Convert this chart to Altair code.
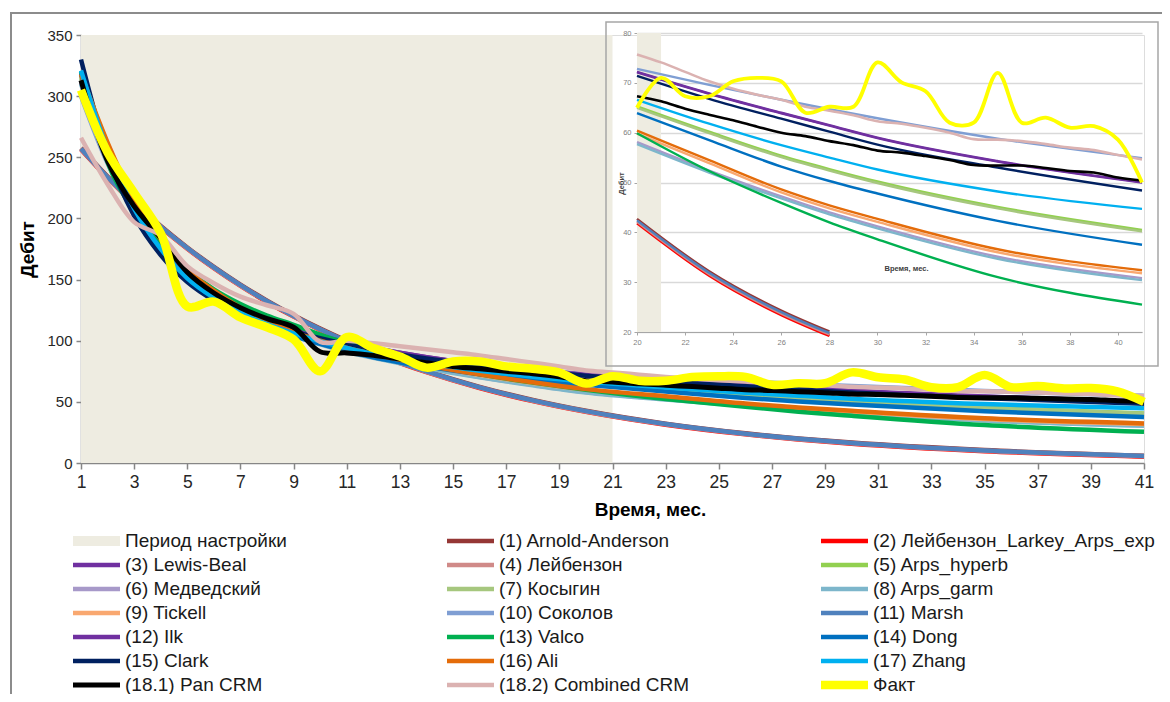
import altair as alt
import pandas as pd

# ---------------- legend / series ----------------
SERIES = [
    "Период настройки", "(1) Arnold-Anderson", "(2) Лейбензон_Larkey_Arps_exp",
    "(3) Lewis-Beal", "(4) Лейбензон", "(5) Arps_hyperb",
    "(6) Медведский", "(7) Косыгин", "(8) Arps_garm",
    "(9) Tickell", "(10) Соколов", "(11) Marsh",
    "(12) Ilk", "(13) Valco", "(14) Dong",
    "(15) Clark", "(16) Ali", "(17) Zhang",
    "(18.1) Pan CRM", "(18.2) Combined CRM", "Факт",
]
COLORS = [
    "#EEECE1", "#953735", "#FF0000",
    "#7030A0", "#D08A88", "#92D050",
    "#A799C9", "#A6C77E", "#7DB6CB",
    "#F9A870", "#7F9ED3", "#4F81BD",
    "#7030A0", "#00B050", "#0070C0",
    "#002060", "#E46C0A", "#00B0F0",
    "#000000", "#DBB2B1", "#FFFF00",
]
WIDTHS = [10] + [4.5] * 17 + [5, 4.5, 8.5]

# ---------------- data ----------------
PERIOD = [1, 21]            # calibration period (months)
MAIN_MONTHS = [1, 41]
MAIN_RATE = [0, 350]
INSET_MONTHS = [20, 41]
INSET_RATE = [20, 80]

MODEL_X = [1, 2, 3, 4, 5, 6, 7, 8, 9, 10, 11, 12, 14, 16, 18, 20, 23, 26, 28, 30, 35, 41]

ARNOLD_ANDERSON = [257.5, 234.2, 213.1, 193.8, 176.3, 160.4, 145.9, 132.8, 120.8, 109.9, 100.0, 91.0, 75.3, 62.3, 51.6, 42.7, 32.2, 24.3, 20.1, 16.7, 10.6, 6.0]
LEIB_LARKEY_EXP = [256.4, 233.1, 212.0, 192.7, 175.2, 159.3, 144.8, 131.7, 119.7, 108.8, 98.9, 89.9, 74.3, 61.3, 50.6, 41.8, 31.3, 23.4, 19.2, 15.8, 9.7, 5.2]
LEWIS_BEAL = [318, 255, 209, 177, 154, 138, 127, 118, 110.5, 104, 98.5, 94, 86.5, 80.5, 76, 72.1, 67.8, 63.9, 61.4, 58.9, 54.2, 50.0]
LEIBENZON = [256.7, 233.4, 212.3, 193.0, 175.5, 159.6, 145.1, 132.0, 120.0, 109.1, 99.2, 90.2, 74.6, 61.6, 50.9, 42.1, 31.6, 23.7, 19.5, 16.1, 10.0, 5.5]
ARPS_HYPERB = [316, 256, 210, 178, 154, 137, 124.5, 115, 107, 100.5, 95, 90, 82, 75.4, 70, 65.3, 60.2, 55.4, 52.7, 50.2, 45.1, 40.5]
MEDVEDSKY = [311, 251, 205, 174, 151, 135, 123, 113, 105, 98, 91.8, 86.6, 78, 70.4, 63.9, 58.1, 52.4, 47.2, 44.0, 41.2, 35.1, 30.8]
KOSYGIN = [315, 255, 209, 177, 153, 136.5, 124, 114.5, 106.5, 100, 94.5, 89.5, 81.5, 75, 69.6, 65, 59.9, 55.1, 52.4, 49.9, 44.8, 40.2]
ARPS_GARM = [310, 250, 204, 173, 150, 134, 122, 112, 104, 97, 91, 86, 77.5, 70, 63.5, 57.7, 52.0, 46.8, 43.6, 40.8, 34.7, 30.4]
TICKELL = [317, 261, 215, 182, 157, 140, 126.3, 115.4, 106.4, 99.4, 93.4, 88.4, 79.4, 71.9, 65.4, 59.8, 53.9, 48.0, 44.8, 42.1, 36.0, 31.8]
SOKOLOV = [300, 245, 205, 177, 156, 140, 128, 118, 110, 103.5, 98, 93.5, 85.5, 79.6, 75.9, 72.8, 69.6, 66.6, 64.7, 62.9, 58.8, 54.9]
MARSH = [257, 233.7, 212.6, 193.3, 175.8, 159.9, 145.4, 132.3, 120.3, 109.4, 99.5, 90.5, 74.9, 61.9, 51.2, 42.4, 31.9, 24.0, 19.8, 16.4, 10.3, 5.8]
ILK = [319, 256, 209.5, 177.5, 154, 138, 127, 118, 110.5, 104, 98.6, 94.1, 86.6, 80.6, 76.1, 72.2, 67.9, 64.0, 61.5, 59.0, 54.3, 50.1]
VALCO = [320, 246, 206, 179, 158, 142, 130, 120.5, 113, 105, 98, 91.5, 81, 72.5, 65.8, 59.9, 52.3, 45.9, 42.0, 38.6, 31.0, 25.5]
DONG = [318, 254, 207, 175, 151, 134, 122, 112, 104, 97.5, 91.5, 86.5, 78.8, 72.6, 67.8, 63.9, 58.5, 53.2, 50.3, 47.8, 42.3, 37.5]
CLARK = [330, 252, 202, 170, 148, 133, 122, 114, 107.5, 102, 97, 92.5, 85.5, 80, 75.5, 71.4, 66.8, 62.8, 60.2, 57.6, 53.0, 48.4]
ALI = [318, 262, 216, 183, 158, 141, 127, 116, 107, 100, 94, 89, 80, 72.5, 66, 60.4, 54.5, 48.6, 45.4, 42.7, 36.6, 32.4]
ZHANG = [321, 256, 208, 175, 151, 135, 123, 113.5, 106, 99.5, 94, 89, 81.5, 75.5, 70.6, 66.6, 61.8, 57.5, 55.0, 52.6, 48.2, 44.7]

MONTHS = list(range(1, 42))
PAN_CRM = [313, 247, 210, 184, 156, 139, 127, 118, 111, 91, 90, 88, 85, 82, 79, 77, 75, 73, 70.5, 67.3,
           66.3, 64.8, 63.6, 62.5, 61.2, 60, 59.3, 58.3, 57.5, 56.4, 56, 55.3, 54.5, 53.5, 53.4, 53.4,
           52.9, 52.3, 52.0, 51.0, 50.4]
COMBINED_CRM = [266, 228, 197, 186, 161, 147, 136, 129, 122, 99, 100, 98, 95.5, 93, 90.5, 88, 85, 82, 79, 75.7,
                74.1, 72.2, 70.3, 68.8, 67.6, 66.6, 65.2, 64.4, 63.5, 62.3, 61.8, 61, 60, 58.7, 58.6, 58.3,
                57.7, 57, 56.5, 55.5, 54.6]
FACT = [305, 254, 221, 188, 128, 132, 119, 111, 101, 75, 103, 94, 87, 78, 83, 83, 79, 77, 74, 65,
        71, 67.3, 67.3, 70.3, 71, 70.3, 64, 65.2, 65.2, 74.1, 70.1, 68.3, 62, 62, 72, 62, 63, 61, 61.3,
        58.6, 50]

MODEL_VALUES = [ARNOLD_ANDERSON, LEIB_LARKEY_EXP, LEWIS_BEAL, LEIBENZON, ARPS_HYPERB, MEDVEDSKY,
                KOSYGIN, ARPS_GARM, TICKELL, SOKOLOV, MARSH, ILK, VALCO, DONG, CLARK, ALI, ZHANG]
MODEL_NAMES = SERIES[1:18]
CRM_NAMES = SERIES[18:21]
CRM_VALUES = [PAN_CRM, COMBINED_CRM, FACT]

rows = []
for name, vals in zip(MODEL_NAMES, MODEL_VALUES):
    for m, v in zip(MODEL_X, vals):
        rows.append({"series": name, "month": m, "rate": v})
models_df = pd.DataFrame(rows)

rows = []
for name, vals in zip(CRM_NAMES, CRM_VALUES):
    for m, v in zip(MONTHS, vals):
        rows.append({"series": name, "month": m, "rate": v})
crm_df = pd.DataFrame(rows)

shade_main = pd.DataFrame([{"month": PERIOD[0], "m1": PERIOD[1], "rate": MAIN_RATE[0], "r1": MAIN_RATE[1]}])
shade_inset = pd.DataFrame([{"month": max(PERIOD[0], INSET_MONTHS[0]), "m1": PERIOD[1],
                             "rate": INSET_RATE[0], "r1": INSET_RATE[1]}])
one = pd.DataFrame([{"k": 1}])

FONT = "Liberation Sans"
W, H = 1063, 428

# ---------------- encodings ----------------
legend = alt.Legend(
    orient="none", legendX=-13, legendY=496, direction="horizontal", columns=3, gridAlign="all",
    columnPadding=35, rowPadding=4, clipHeight=20, symbolType="stroke",
    symbolSize=2209, labelFont=FONT, labelFontSize=19, labelColor="#1a1a1a",
    labelLimit=400, labelOffset=0, title=None, padding=0, symbolOpacity=1,
)
COLOR = alt.Color("series:N", scale=alt.Scale(domain=SERIES, range=COLORS), legend=legend)
COLOR_NL = alt.Color("series:N", scale=alt.Scale(domain=SERIES, range=COLORS), legend=None)
SW = alt.StrokeWidth("series:N", scale=alt.Scale(type="ordinal", domain=SERIES, range=WIDTHS), legend=legend)

AX_GRAY = "#868686"
SC_XM = alt.Scale(domain=MAIN_MONTHS, nice=False, zero=False)
SC_YM = alt.Scale(domain=MAIN_RATE, nice=False, zero=False)
AXIS_XM = alt.Axis(values=list(range(1, 42, 2)), grid=False, title="Время, мес.",
                   domainColor=AX_GRAY, domainWidth=1.5, tickColor=AX_GRAY, tickWidth=1.5,
                   tickSize=6, labelFontSize=17.5, labelColor="#262626", labelPadding=4,
                   labelFlush=False, labelOverlap=False, labelFont=FONT,
                   titleFont=FONT, titleFontSize=19, titleFontWeight="bold", titleColor="#000",
                   titleX=569, titleY=46, titleAlign="center", titleBaseline="middle")
AXIS_YM = alt.Axis(values=list(range(0, 351, 50)), grid=False, title="Дебит",
                   domainColor=AX_GRAY, domainWidth=1.5, tickColor=AX_GRAY, tickWidth=1.5,
                   tickSize=5, labelFontSize=15, labelColor="#262626", labelPadding=4,
                   labelFont=FONT, titleFont=FONT, titleFontSize=19, titleFontWeight="bold",
                   titleColor="#000", titleX=-54, titleY=214, titleAngle=270,
                   titleAlign="center", titleBaseline="middle")
X_MAIN = alt.X("month:Q", scale=SC_XM, axis=AXIS_XM)
Y_MAIN = alt.Y("rate:Q", scale=SC_YM, axis=AXIS_YM)

SC_XI = alt.Scale(domain=INSET_MONTHS, range=[556, 1061], nice=False, zero=False)
SC_YI = alt.Scale(domain=INSET_RATE, range=[297, -2], nice=False, zero=False)
AXIS_XI = alt.Axis(orient="bottom", offset=-131, values=list(range(20, 41, 2)), grid=False,
                   title="Время, мес.", domainColor="#A6A6A6", tickColor="#A6A6A6", tickSize=3,
                   labelFontSize=7.5, labelColor="#7F7F7F", labelPadding=3, labelFlush=False,
                   labelOverlap=False, labelFont=FONT, titleFont=FONT, titleFontSize=7.5,
                   titleFontWeight="bold", titleColor="#404040", titleX=825, titleY=-64,
                   titleAlign="center", titleBaseline="middle")
AXIS_YI = alt.Axis(orient="left", offset=-556, values=list(range(20, 81, 10)), grid=True,
                   gridColor="#D9D9D9", gridWidth=1.5, title="Дебит", domainColor="#A6A6A6",
                   tickColor="#A6A6A6", tickSize=3, labelFontSize=7.5, labelColor="#7F7F7F",
                   labelPadding=3, labelFont=FONT, titleFont=FONT, titleFontSize=7.5,
                   titleFontWeight="bold", titleColor="#404040", titleX=-16, titleY=148,
                   titleAngle=270, titleAlign="center", titleBaseline="middle")
X_IN = alt.X("month:Q", scale=SC_XI, axis=AXIS_XI)
Y_IN = alt.Y("rate:Q", scale=SC_YI, axis=AXIS_YI)

# ---------------- main chart ----------------
outer_frame = alt.Chart(one).mark_rect(fillOpacity=0, stroke="#8C8C8C", strokeWidth=2).encode(
    x=alt.value(-70), x2=alt.value(W + 60), y=alt.value(-22), y2=alt.value(H + 300))

shade = alt.Chart(shade_main).mark_rect(color="#EEECE1").encode(
    x=X_MAIN, x2="m1:Q", y=Y_MAIN, y2="r1:Q")

model_lines = alt.Chart(models_df).mark_line(interpolate="monotone").encode(
    x=X_MAIN, y=Y_MAIN, color=COLOR, strokeWidth=SW)
crm_lines = alt.Chart(crm_df).mark_line(interpolate="catmull-rom").encode(
    x=X_MAIN, y=Y_MAIN, color=COLOR, strokeWidth=SW)

main = alt.layer(outer_frame, shade, model_lines, crm_lines)

# ---------------- inset ----------------
inset_frame = alt.Chart(one).mark_rect(fillOpacity=0, stroke="#A6A6A6", strokeWidth=1.5).encode(
    x=alt.value(525), x2=alt.value(1077), y=alt.value(-13), y2=alt.value(331))
inset_shade = alt.Chart(shade_inset).mark_rect(color="#EEECE1").encode(
    x=X_IN, x2="m1:Q", y=Y_IN, y2="r1:Q")
inset_models = alt.Chart(models_df).transform_filter(
    "datum.month >= 20 && datum.rate >= 19").mark_line(interpolate="monotone", strokeWidth=2.4).encode(
    x=X_IN, y=Y_IN, color=COLOR_NL)
inset_crm = alt.Chart(crm_df).transform_filter(
    "datum.month >= 20 && datum.series != 'Факт'").mark_line(interpolate="catmull-rom", strokeWidth=2.6).encode(
    x=X_IN, y=Y_IN, color=COLOR_NL)
inset_fact = alt.Chart(crm_df).transform_filter(
    "datum.month >= 20 && datum.series == 'Факт'").mark_line(interpolate="catmull-rom", strokeWidth=3.8).encode(
    x=X_IN, y=Y_IN, color=COLOR_NL)

inset = alt.layer(inset_frame, inset_shade, inset_models, inset_crm, inset_fact)

chart = alt.layer(main, inset).resolve_scale(x="independent", y="independent").properties(
    width=W, height=H,
    padding={"left": 73, "top": 27, "right": 18, "bottom": 231},
    autosize=alt.AutoSizeParams(type="none"),
    background="white",
).configure_view(stroke=None).configure(font=FONT)

chart.save("out.html", embed_options={"renderer": "svg", "actions": False})
